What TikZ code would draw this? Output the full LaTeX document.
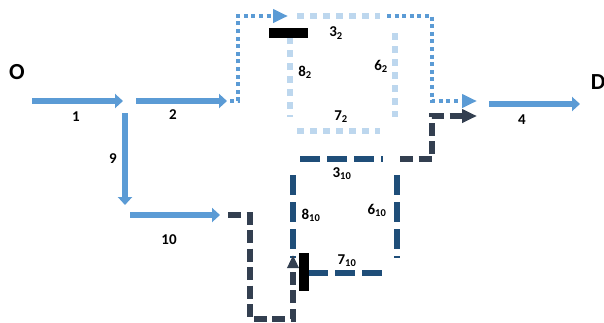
\documentclass[tikz,border=0pt]{standalone}
\usepackage{fontspec}
\setmainfont{Carlito}
\usetikzlibrary{arrows.meta}
\definecolor{flowblue}{HTML}{5B9BD5}
\definecolor{paleblue}{HTML}{BDD7EE}
\definecolor{linknavy}{HTML}{1F4E79}
\definecolor{routeslate}{HTML}{333F50}
\newcommand{\lk}[2]{#1\textsubscript{#2}}

\begin{document}
\begin{tikzpicture}[x=1pt, y=-1pt,
  flow/.style={flowblue, line width=6pt, -{Triangle[length=8pt,width=14pt]}},
  lab/.style={font=\fontsize{15}{17}\selectfont\bfseries, inner sep=0pt},
  endpt/.style={font=\fontsize{23}{25}\selectfont\bfseries, inner sep=0pt},
  routetwo/.style={flowblue, line width=4pt, dash pattern=on 4pt off 3.6pt},
  linktwo/.style={paleblue, line width=6pt, dash pattern=on 6.5pt off 6.5pt},
  routeten/.style={routeslate, line width=5.5pt, dash pattern=on 13pt off 5.5pt},
  linkten/.style={linknavy, line width=5.5pt, dash pattern=on 20pt off 7pt},
  tipbig/.style={-{Triangle[length=15pt,width=13pt]}}]
  \useasboundingbox (0,0) rectangle (604,322);
  % origin and destination
  \node[endpt] (O) at (17,72) {O};
  \node[endpt] (D) at (598,82) {D};
  % main flows
  \coordinate (a1) at (32,101);  \coordinate (b1) at (123,101);
  \coordinate (a2) at (136,101); \coordinate (b2) at (227,101);
  \coordinate (a9) at (125,113); \coordinate (b9) at (125,205);
  \coordinate (a10) at (130,215); \coordinate (b10) at (220,215);
  \coordinate (a4) at (489,104); \coordinate (b4) at (580,104);
  \foreach \f in {1,2,9,10,4}
    \draw[flow] (a\f) -- (b\f);
  \node[lab] (n1) at (76,117) {1};
  \node[lab] (n2) at (173,115) {2};
  \node[lab] (n9) at (113,159) {9};
  \node[lab] (n10) at (169,240) {10};
  \node[lab] (n4) at (522,120) {4};
  % links of route 2
  \draw[linktwo] (297,16) -- (380,16);
  \draw[linktwo] (290,37) -- (290,117);
  \draw[linktwo] (395,33) -- (395,117);
  \draw[linktwo] (297,131) -- (380,131);
  \node[lab] (l32) at (336,33) {\lk{3}{2}};
  \node[lab] (l82) at (305,72) {\lk{8}{2}};
  \node[lab] (l62) at (381,66) {\lk{6}{2}};
  \node[lab] (l72) at (341,117) {\lk{7}{2}};
  % links of route 10
  \draw[linkten] (300,159) -- (383,159);
  \draw[linkten] (293,175) -- (293,258);
  \draw[linkten] (397,175) -- (397,258);
  \draw[linkten] (308,273) -- (383,273);
  \node[lab] (l310) at (342,174) {\lk{3}{10}};
  \node[lab] (l810) at (311,215) {\lk{8}{10}};
  \node[lab] (l610) at (377,210) {\lk{6}{10}};
  \node[lab] (l710) at (347,261) {\lk{7}{10}};
  % route 2 (dotted)
  \coordinate (r2in) at (230,101);  \coordinate (r2up) at (238,16);
  \coordinate (r2top) at (288,16);
  \coordinate (r2out) at (387,16); \coordinate (r2dn) at (432,101);
  \coordinate (r2end) at (477,101);
  \draw[routetwo, tipbig] (r2in) -| (r2up) -- (r2top);
  \draw[routetwo, tipbig] (r2out) -| (r2dn) -- (r2end);
  % route 10 (dashed)
  \coordinate (r10in) at (228,215); \coordinate (r10dn) at (250,319);
  \coordinate (r10up) at (293,255);
  \coordinate (r10out) at (400,159); \coordinate (r10rt) at (432,116);
  \coordinate (r10end) at (477,116);
  \draw[routeten, -{Triangle[length=13pt,width=11pt]}] (r10in) -| (r10dn) -| (r10up);
  \draw[routeten, tipbig] (r10out) -| (r10rt) -- (r10end);
  % gates
  \fill (269,28) rectangle (308,38);
  \fill (299,253) rectangle (309,291);
\end{tikzpicture}
\end{document}
